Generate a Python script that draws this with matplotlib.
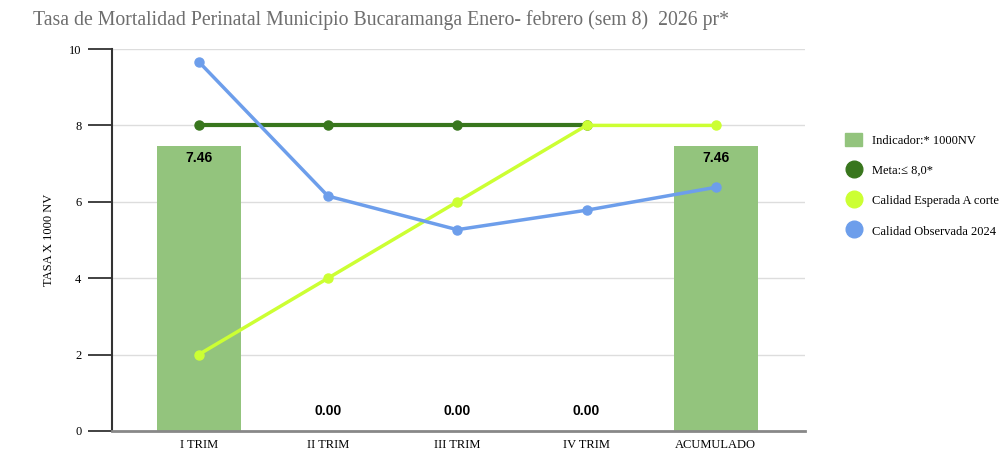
import matplotlib
matplotlib.use("Agg")
import matplotlib.pyplot as plt
from matplotlib.lines import Line2D
from matplotlib.patches import Patch
import numpy as np

categories = ["I TRIM", "II TRIM", "III TRIM", "IV TRIM", "ACUMULADO"]
indicador = [7.46, 0.00, 0.00, 0.00, 7.46]
meta = [8.0, 8.0, 8.0, 8.0]
esperada = [2.0, 4.0, 6.0, 8.0, 8.0]
observada = [9.67, 6.15, 5.27, 5.78, 6.38]
yticks = [0, 2, 4, 6, 8, 10]

c_bar = "#93c47d"
c_meta = "#38761d"
c_esp = "#ccff33"
c_obs = "#6d9eeb"

serif = ["Liberation Serif", "DejaVu Serif"]
sans = ["Liberation Sans", "DejaVu Sans"]

fig = plt.figure(figsize=(10.02, 4.73), dpi=100)
ax = fig.add_axes([0.1118, 0.0888, 0.8034 - 0.1118, 0.8964 - 0.0888])

x = np.arange(len(categories))
ax.bar(x, indicador, width=0.65, color=c_bar, zorder=2)
for xi, v in zip(x, indicador):
    if v > 0:
        ax.text(xi, v - 0.12, f"{v:.2f}", ha="center", va="top", fontsize=10,
                fontweight="bold", family=sans, zorder=5)
    else:
        ax.text(xi, 0.35, f"{v:.2f}", ha="center", va="bottom", fontsize=10,
                fontweight="bold", family=sans, zorder=5)

ax.plot(x[:len(meta)], meta, color=c_meta, lw=3, marker="o", ms=6.5, zorder=3)
ax.plot(x, esperada, color=c_esp, lw=2.5, marker="o", ms=6.5, zorder=3)
ax.plot(x, observada, color=c_obs, lw=2.5, marker="o", ms=6.5, zorder=4)

ax.set_ylim(0, 10)
ax.set_xlim(-0.67, 4.69)
ax.set_yticks(yticks)
ax.set_yticklabels([str(t) for t in yticks], family=serif, fontsize=9)
ax.set_xticks(x)
ax.set_xticklabels(categories, family=serif, fontsize=9)
ax.tick_params(axis="y", length=17, width=1.3, color="#333333", pad=5)
ax.tick_params(axis="x", length=0, pad=6)
ax.grid(axis="y", color="#dddddd", lw=1, zorder=0)
ax.set_axisbelow(True)
for s in ["top", "right"]:
    ax.spines[s].set_visible(False)
ax.spines["left"].set_color("#333333")
ax.spines["left"].set_linewidth(1.5)
ax.spines["bottom"].set_color("#888888")
ax.spines["bottom"].set_linewidth(2)
ax.set_ylabel("TASA X 1000 NV", family=serif, fontsize=9, labelpad=10)

handles = [
    Patch(facecolor=c_bar, edgecolor=c_bar),
    Line2D([], [], ls="", marker="o", color=c_meta, ms=12),
    Line2D([], [], ls="", marker="o", color=c_esp, ms=12),
    Line2D([], [], ls="", marker="o", color=c_obs, ms=12),
]
labels = ["Indicador:* 1000NV", "Meta:\u2264 8,0*", "Calidad Esperada A corte", "Calidad Observada 2024"]
fig.legend(handles, labels, loc="upper left", bbox_to_anchor=(0.832, 0.742),
           frameon=False, prop={"family": serif, "size": 9}, labelspacing=1.33,
           handlelength=1.4, handleheight=1.2, handletextpad=0.8)

fig.text(0.033, 0.958, "Tasa de Mortalidad Perinatal Municipio Bucaramanga Enero- febrero (sem 8)  2026 pr*",
         family=serif, fontsize=14.2, color="#6e6e6e", va="center")

fig.savefig("out.png", dpi=100)
